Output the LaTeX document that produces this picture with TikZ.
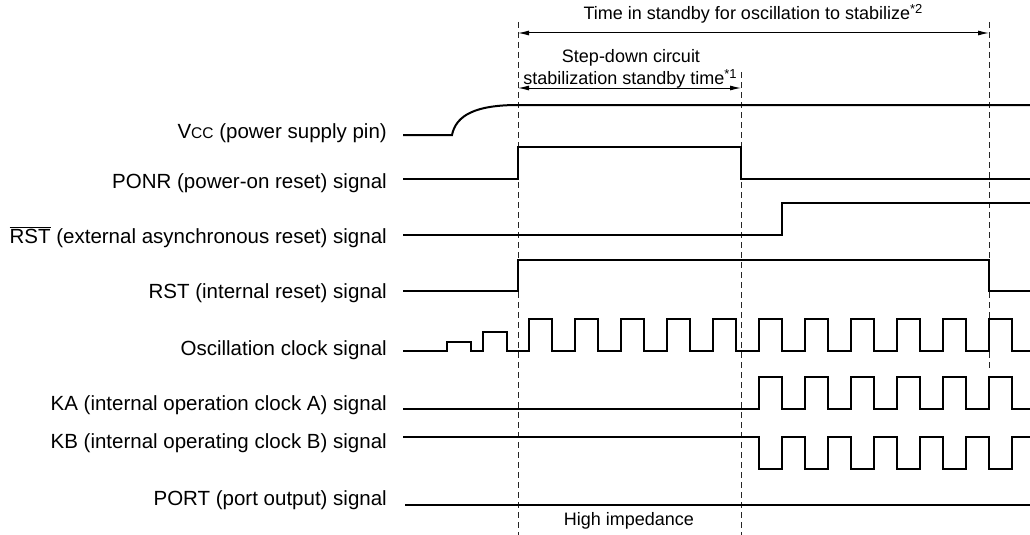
\documentclass[tikz,border=0pt]{standalone}
\usepackage{fontspec}
\setmainfont{Liberation Sans}
\usetikzlibrary{arrows.meta}
\begin{document}
\begin{tikzpicture}[x=1pt,y=-1pt,
  sig/.style={line width=2pt},
  guide/.style={line width=0.9pt, dash pattern=on 6pt off 4pt, black!85},
  dim/.style={line width=1pt, {Latex[length=11pt,width=5pt]}-{Latex[length=11pt,width=5pt]}},
  lbl/.style={anchor=east, inner sep=0pt, font=\fontsize{20.5}{22}\selectfont},
  note/.style={inner sep=0pt, font=\fontsize{18}{20}\selectfont},
  sup/.style={}]
\useasboundingbox (0,0) rectangle (1030,535);

% labels
\node[lbl] (lvcc)  at (387,133) {V{\fontsize{15.5}{15}\selectfont CC} (power supply pin)};
\node[lbl] (lponr) at (387,183) {PONR (power-on reset) signal};
\node[lbl] (lrstb) at (387,237) {$\overline{\mbox{RST}}$ (external asynchronous reset) signal};
\node[lbl] (lrst)  at (387,293) {RST (internal reset) signal};
\node[lbl] (losc)  at (387,350) {Oscillation clock signal};
\node[lbl] (lka)   at (387,405) {KA (internal operation clock A) signal};
\node[lbl] (lkb)   at (387,443) {KB (internal operating clock B) signal};
\node[lbl] (lport) at (387,500) {PORT (port output) signal};

% guide lines
\coordinate (g1t) at (518,22);  \coordinate (g1b) at (518,535);
\coordinate (g2t) at (741,72);  \coordinate (g2b) at (741,535);
\coordinate (g3t) at (989,22);  \coordinate (g3b) at (989,371);
\draw[guide] (g1t) -- (g1b);
\draw[guide] (g2t) -- (g2b);
\draw[guide] (g3t) -- (g3b);

% dimension arrows
\coordinate (a1) at (518,33); \coordinate (a2) at (989,33);
\coordinate (b1) at (518,88); \coordinate (b2) at (741,88);
\draw[dim] (a1) -- (a2);
\draw[dim] (b1) -- (b2);
\node[note] (tosc) at (753,14) {Time in standby for oscillation to stabilize\raisebox{0.6ex}{\fontsize{13}{13}\selectfont *2}};
\node[note] (tsd1) at (631,58) {Step-down circuit};
\node[note] (tsd2) at (630,79) {stabilization standby time\raisebox{0.6ex}{\fontsize{13}{13}\selectfont *1}};
\node[note] (thi)  at (629,521) {High impedance};

% Vcc
\draw[sig] (403,135) -- (452,135) .. controls (456,115) and (476,105) .. (518,105) -- (1030,105);
% PONR
\draw[sig] (403,179) -- (518,179) -- (518,147) -- (741,147) -- (741,179) -- (1030,179);
% RST bar
\draw[sig] (403,235) -- (782,235) -- (782,203) -- (1030,203);
% RST
\draw[sig] (403,291) -- (518,291) -- (518,260) -- (989,260) -- (989,291) -- (1030,291);
% Oscillation clock
\draw[sig] (403,351) -- (447,351) -- (447,342) -- (471,342) -- (471,351) -- (483,351)
  -- (483,332) -- (507,332) -- (507,351)
  \foreach \k in {0,...,10} { -- ({529+46*\k},351) -- ({529+46*\k},319) -- ({552+46*\k},319) -- ({552+46*\k},351) }
  -- (1030,351);
% KA
\draw[sig] (403,409)
  \foreach \k in {0,...,5} { -- ({759+46*\k},409) -- ({759+46*\k},377) -- ({782+46*\k},377) -- ({782+46*\k},409) }
  -- (1030,409);
% KB
\draw[sig] (403,437)
  \foreach \k in {0,...,5} { -- ({759+46*\k},437) -- ({759+46*\k},469) -- ({782+46*\k},469) -- ({782+46*\k},437) }
  -- (1030,437);
% PORT
\draw[sig] (405,505) -- (1030,505);
\end{tikzpicture}
\end{document}
